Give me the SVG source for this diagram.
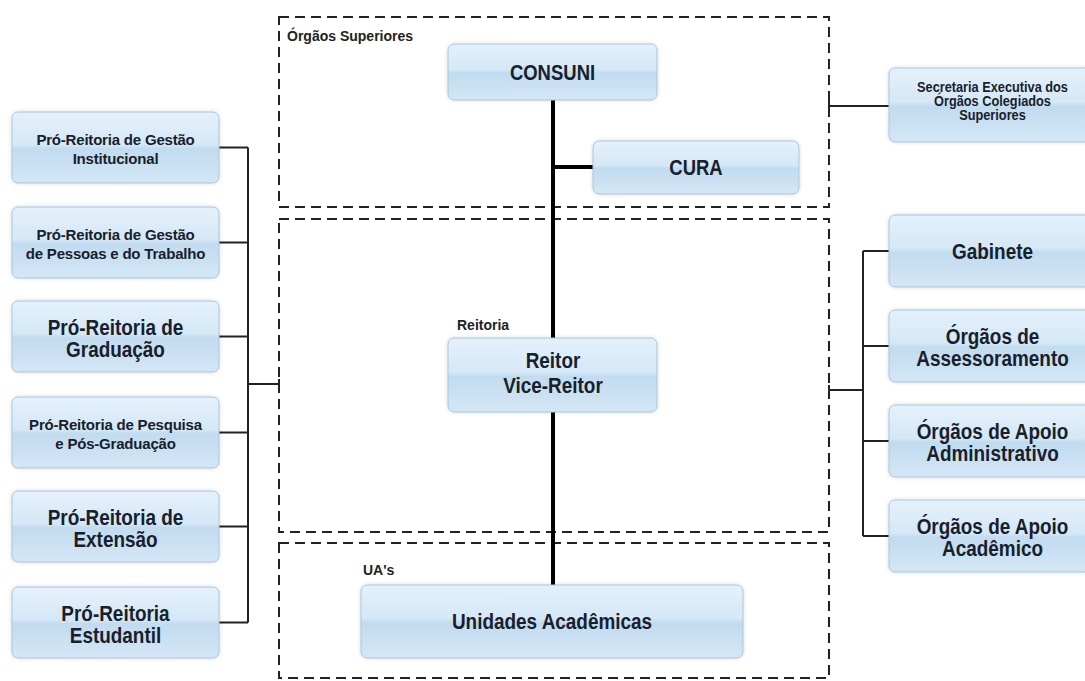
<svg xmlns="http://www.w3.org/2000/svg" width="1085" height="681" viewBox="0 0 1085 681">
  <defs>
    <linearGradient id="boxfill" x1="0" y1="0" x2="0" y2="1">
      <stop offset="0" stop-color="#e4f1fb"/>
      <stop offset="0.46" stop-color="#d5e8f6"/>
      <stop offset="0.52" stop-color="#c1dbef"/>
      <stop offset="1" stop-color="#d4e7f6"/>
    </linearGradient>
    <filter id="soft" x="-10%" y="-20%" width="120%" height="140%">
      <feGaussianBlur in="SourceAlpha" stdDeviation="2"/>
      <feComponentTransfer><feFuncA type="linear" slope="0.15"/></feComponentTransfer>
      <feMerge><feMergeNode/><feMergeNode in="SourceGraphic"/></feMerge>
    </filter>
  </defs>
  <style>
    .box { fill: url(#boxfill); stroke: #a9c5db; stroke-width: 1; filter: url(#soft); }
    .zone { fill: none; stroke: #222; stroke-width: 2; stroke-dasharray: 10 6; }
    .big { font-family: "Liberation Sans", Arial, sans-serif; font-weight: bold; font-size: 21.5px; fill: #18202c; text-anchor: middle; }
    .small { font-family: "Liberation Sans", Arial, sans-serif; font-weight: bold; font-size: 15px; fill: #18202c; text-anchor: middle; letter-spacing: -0.2px; }
    .tiny { font-family: "Liberation Sans", Arial, sans-serif; font-weight: bold; font-size: 14.5px; fill: #18202c; text-anchor: middle; }
    .label { font-family: "Liberation Sans", Arial, sans-serif; font-weight: bold; font-size: 14px; fill: #222; }
    .thin { stroke: #222; stroke-width: 2; fill: none; }
    .thick { stroke: #000; stroke-width: 4; fill: none; }
  </style>
  <rect width="1085" height="681" fill="#ffffff"/>

  <g id="zones">
    <rect class="zone" x="279" y="17" width="550" height="190"/>
    <rect class="zone" x="279" y="219" width="550" height="313"/>
    <rect class="zone" x="279" y="543" width="550" height="135"/>
    <text class="label" x="287" y="41">Órgãos Superiores</text>
    <text class="label" x="457" y="330">Reitoria</text>
    <text class="label" x="363" y="575">UA's</text>
  </g>

  <g id="connectors">
    <line class="thick" x1="553" y1="100" x2="553" y2="585"/>
    <line class="thick" x1="553" y1="167" x2="593" y2="167"/>
    <path class="thin" d="M219,147.5 H248 M219,242.5 H248 M219,336.5 H248 M219,432.5 H248 M219,526.5 H248 M219,622.5 H248 M248,147.5 V622.5 M248,384 H279 M279,379 V389"/>
    <path class="thin" d="M863,251 H889 M863,346 H889 M863,441 H889 M863,536 H889 M863,251 V536 M829,390 H863 M829,385 V395"/>
    <path class="thin" d="M829,106 H889 M829,101 V111"/>
  </g>

  <g id="consuni">
    <rect class="box" x="448" y="44" width="209" height="56" rx="6"/>
    <text class="big" transform="translate(552.5 80) scale(0.86 1)">CONSUNI</text>
  </g>
  <g id="cura">
    <rect class="box" x="593" y="141" width="206" height="53" rx="6"/>
    <text class="big" transform="translate(696 175) scale(0.86 1)">CURA</text>
  </g>
  <g id="reitor">
    <rect class="box" x="448" y="338" width="209" height="74" rx="6"/>
    <text class="big" transform="translate(553 368) scale(0.88 1)">Reitor</text>
    <text class="big" transform="translate(553 393) scale(0.88 1)">Vice-Reitor</text>
  </g>
  <g id="unidades">
    <rect class="box" x="361" y="585" width="382" height="73" rx="6"/>
    <text class="big" transform="translate(552 629) scale(0.88 1)">Unidades Acadêmicas</text>
  </g>

  <g id="pr-gestao-inst">
    <rect class="box" x="12" y="112" width="207" height="71" rx="6"/>
    <text class="small" x="115.5" y="145">Pró-Reitoria de Gestão</text>
    <text class="small" x="115.5" y="164">Institucional</text>
  </g>
  <g id="pr-gestao-pessoas">
    <rect class="box" x="12" y="207" width="207" height="71" rx="6"/>
    <text class="small" x="115.5" y="240">Pró-Reitoria de Gestão</text>
    <text class="small" x="115.5" y="259">de Pessoas e do Trabalho</text>
  </g>
  <g id="pr-graduacao">
    <rect class="box" x="12" y="301" width="207" height="71" rx="6"/>
    <text class="big" transform="translate(115.5 335) scale(0.88 1)">Pró-Reitoria de</text>
    <text class="big" transform="translate(115.5 357) scale(0.88 1)">Graduação</text>
  </g>
  <g id="pr-pesquisa">
    <rect class="box" x="12" y="397" width="207" height="71" rx="6"/>
    <text class="small" x="115.5" y="430">Pró-Reitoria de Pesquisa</text>
    <text class="small" x="115.5" y="449">e Pós-Graduação</text>
  </g>
  <g id="pr-extensao">
    <rect class="box" x="12" y="491" width="207" height="71" rx="6"/>
    <text class="big" transform="translate(115.5 525) scale(0.88 1)">Pró-Reitoria de</text>
    <text class="big" transform="translate(115.5 547) scale(0.88 1)">Extensão</text>
  </g>
  <g id="pr-estudantil">
    <rect class="box" x="12" y="587" width="207" height="71" rx="6"/>
    <text class="big" transform="translate(115.5 621) scale(0.88 1)">Pró-Reitoria</text>
    <text class="big" transform="translate(115.5 643) scale(0.88 1)">Estudantil</text>
  </g>

  <g id="secretaria">
    <rect class="box" x="889" y="68" width="207" height="74" rx="6"/>
    <text class="tiny" transform="translate(992.5 92) scale(0.88 1)">Secretaria Executiva dos</text>
    <text class="tiny" transform="translate(992.5 106) scale(0.88 1)">Órgãos Colegiados</text>
    <text class="tiny" transform="translate(992.5 120) scale(0.88 1)">Superiores</text>
  </g>
  <g id="gabinete">
    <rect class="box" x="889" y="215" width="207" height="72" rx="6"/>
    <text class="big" transform="translate(992.5 259) scale(0.88 1)">Gabinete</text>
  </g>
  <g id="assessoramento">
    <rect class="box" x="889" y="310" width="207" height="72" rx="6"/>
    <text class="big" transform="translate(992.5 344) scale(0.88 1)">Órgãos de</text>
    <text class="big" transform="translate(992.5 366) scale(0.88 1)">Assessoramento</text>
  </g>
  <g id="apoio-adm">
    <rect class="box" x="889" y="405" width="207" height="72" rx="6"/>
    <text class="big" transform="translate(992.5 439) scale(0.88 1)">Órgãos de Apoio</text>
    <text class="big" transform="translate(992.5 461) scale(0.88 1)">Administrativo</text>
  </g>
  <g id="apoio-acad">
    <rect class="box" x="889" y="500" width="207" height="72" rx="6"/>
    <text class="big" transform="translate(992.5 534) scale(0.88 1)">Órgãos de Apoio</text>
    <text class="big" transform="translate(992.5 556) scale(0.88 1)">Acadêmico</text>
  </g>
</svg>
